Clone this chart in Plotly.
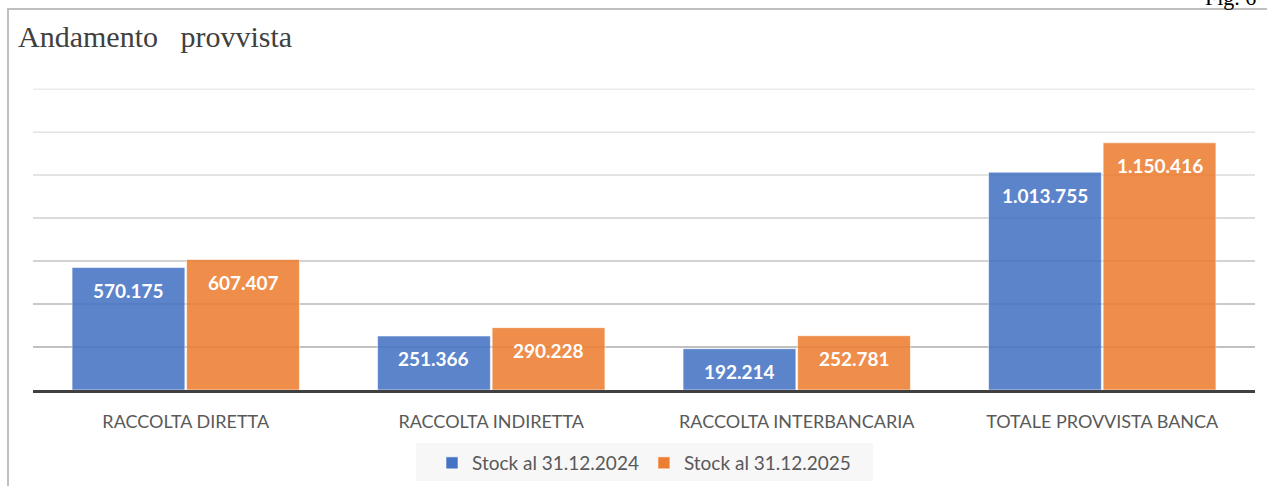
import plotly.graph_objects as go

categories = ["RACCOLTA DIRETTA", "RACCOLTA INDIRETTA", "RACCOLTA INTERBANCARIA", "TOTALE PROVVISTA BANCA"]
series_names = ["Stock al 31.12.2024", "Stock al 31.12.2025"]
values_2024 = [570175, 251366, 192214, 1013755]
values_2025 = [607407, 290228, 252781, 1150416]
colors = ["#4472C4", "#ED7D31"]
grid_values = [200000, 400000, 600000, 800000, 1000000, 1200000, 1400000]
grid_colors = ["#ADADAD", "#B8B8B8", "#C4C4C4", "#CFCFCF", "#DADADA", "#E3E3E3", "#EBEBEB"]

W, H = 1267, 486
L, R, T, B = 33, 12, 87, 96
pw = W - L - R
ph = H - T - B

def px_x(x):
    return (x - L) / pw

def px_y(y):
    return (H - B - y) / ph

def fmt(v):
    return f"{v:,}".replace(",", ".")

fig = go.Figure()
for name, vals, col in zip(series_names, [values_2024, values_2025], colors):
    fig.add_trace(go.Bar(
        x=categories, y=vals, name=name,
        marker=dict(color=col, opacity=0.87, line=dict(color="rgba(255,255,255,0.6)", width=1)),
        hoverinfo="skip",
    ))

annotations = []
for i, vals in enumerate([values_2024, values_2025]):
    shift = -57.5 if i == 0 else 57.5
    for c, v in zip(categories, vals):
        annotations.append(dict(
            x=c, y=v, xref="x", yref="y", text=fmt(v), showarrow=False,
            xshift=shift, yshift=-23, yanchor="middle",
            font=dict(family="Lato", size=19, color="white", weight="bold"),
        ))

annotations.append(dict(
    x=px_x(16), y=px_y(18), xref="paper", yref="paper",
    text="Andamento\u00a0\u00a0\u00a0provvista", showarrow=False,
    xanchor="left", yanchor="top",
    font=dict(family="Liberation Serif", size=30, color="#404040"),
))
annotations.append(dict(
    x=px_x(1258), y=px_y(12), xref="paper", yref="paper",
    text="Fig. 6", showarrow=False, xanchor="right", yanchor="bottom",
    font=dict(family="Liberation Serif", size=22, color="#000000"),
))

shapes = [
    dict(type="line", xref="paper", yref="paper", x0=px_x(7), x1=px_x(1275),
         y0=px_y(9), y1=px_y(9), line=dict(color="#BFBFBF", width=2)),
    dict(type="line", xref="paper", yref="paper", x0=px_x(8), x1=px_x(8),
         y0=px_y(9), y1=px_y(495), line=dict(color="#BFBFBF", width=2)),
    dict(type="rect", xref="paper", yref="paper", x0=px_x(416), x1=px_x(873),
         y0=px_y(443), y1=px_y(481), fillcolor="#F7F7F7", line=dict(width=0), layer="below"),
]
for gv, gc in zip(grid_values, grid_colors):
    shapes.append(dict(type="line", xref="paper", yref="y", x0=0, x1=1, y0=gv, y1=gv,
                       layer="below", line=dict(color=gc, width=1.5)))

fig.update_layout(
    width=W, height=H,
    margin=dict(l=L, r=R, t=T, b=B, pad=0, autoexpand=False),
    paper_bgcolor="white", plot_bgcolor="rgba(0,0,0,0)",
    barmode="group", bargap=0.25, bargroupgap=0.015,
    showlegend=True,
    legend=dict(
        orientation="h", x=0.5, xanchor="center", xref="paper",
        y=(H - 444) / H, yanchor="top", yref="container",
        bgcolor="rgba(0,0,0,0)", font=dict(family="Lato", size=19, color="#595959"),
        itemclick=False, itemdoubleclick=False,
    ),
    annotations=annotations,
    shapes=shapes,
)
fig.update_xaxes(
    automargin=False,
    showline=True, linecolor="#404040", linewidth=3,
    showgrid=False, ticks="outside", ticklen=13, tickcolor="rgba(0,0,0,0)",
    tickfont=dict(family="Lato", size=18, color="#595959"),
)
fig.update_yaxes(
    automargin=False,
    range=[0, 1410000], showticklabels=False,
    showgrid=False, zeroline=False,
)

fig.write_html("out.html", config={"displayModeBar": False},
               post_script="document.body.style.margin='0';")
